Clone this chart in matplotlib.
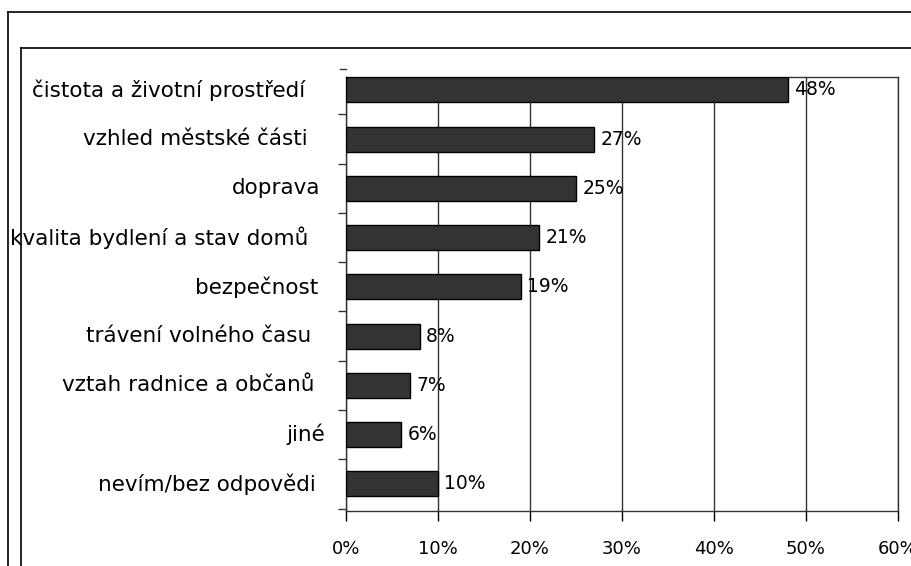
import matplotlib
matplotlib.use("Agg")
import matplotlib.pyplot as plt
from matplotlib.lines import Line2D
from matplotlib.transforms import offset_copy, blended_transform_factory

categories = [
    "čistota a životní prostředí",
    "vzhled městské části",
    "doprava",
    "kvalita bydlení a stav domů",
    "bezpečnost",
    "trávení volného času",
    "vztah radnice a občanů",
    "jiné",
    "nevím/bez odpovědi",
]
values = [48, 27, 25, 21, 19, 8, 7, 6, 10]
xticks = [0, 10, 20, 30, 40, 50, 60]
xticklabels = ["0%", "10%", "20%", "30%", "40%", "50%", "60%"]

# per-label right-edge offset from the axis (pixels), as in reference
label_offsets = [41, 38, 26, 38, 28, 35, 31, 21, 30]

W, H = 912, 566
fig = plt.figure(figsize=(W / 100, H / 100), dpi=100)
plt.rcParams['font.family'] = ['DejaVu Sans']

left, right, top, bottom = 346, 898, 77, 511
ax = fig.add_axes([left / W, 1 - bottom / H, (right - left) / W, (bottom - top) / H])

y = list(range(len(categories)))
ax.barh(y, values, height=0.51, color="#333333", edgecolor="black", linewidth=1, zorder=3)

ax.set_xlim(0, 60)
ax.set_ylim(8.55, -0.26)
ax.set_xticks(xticks)
ax.set_xticklabels(xticklabels, fontsize=13)
ax.tick_params(axis="x", direction="out", length=7, width=1, pad=14, color="black")
ax.grid(axis="x", color="#333333", linewidth=1, zorder=0)

# y ticks at category boundaries
bounds = [i - 0.5 for i in range(len(categories) + 1)]
ax.set_yticks([b for b in bounds if b > -0.26])
ax.set_yticklabels([])
ax.tick_params(axis="y", direction="out", length=6, width=1, color="#333333")
btrans = blended_transform_factory(ax.transAxes, ax.transData)
ax.add_line(Line2D([-6 / (right - left), 0], [-0.42, -0.42], transform=btrans,
                   color="#333333", lw=1, clip_on=False))

for sp in ax.spines.values():
    sp.set_color("#333333")
    sp.set_linewidth(1)

# category labels
for i, (cat, off) in enumerate(zip(categories, label_offsets)):
    tr = offset_copy(btrans, fig=fig, x=-off * 0.72, y=0, units="points")
    ax.text(0, i, cat, transform=tr, ha="right", va="center", fontsize=15.5, color="black")

# value labels
for i, v in enumerate(values):
    ax.annotate(f"{v}%", xy=(v, i), xytext=(4.5, 0), textcoords="offset points",
                ha="left", va="center", fontsize=13.5, color="black", zorder=4)

# frames
def hline(yp, x0, x1):
    fig.add_artist(Line2D([x0 / W, x1 / W], [1 - yp / H, 1 - yp / H],
                          transform=fig.transFigure, color="black", lw=1.2))

def vline(xp, y0, y1):
    fig.add_artist(Line2D([xp / W, xp / W], [1 - y0 / H, 1 - y1 / H],
                          transform=fig.transFigure, color="black", lw=1.2))

hline(12, 8, W + 5)
vline(8, 12, H + 5)
hline(48, 21, W + 5)
vline(21, 48, H + 5)

fig.savefig("out.png", dpi=100)
